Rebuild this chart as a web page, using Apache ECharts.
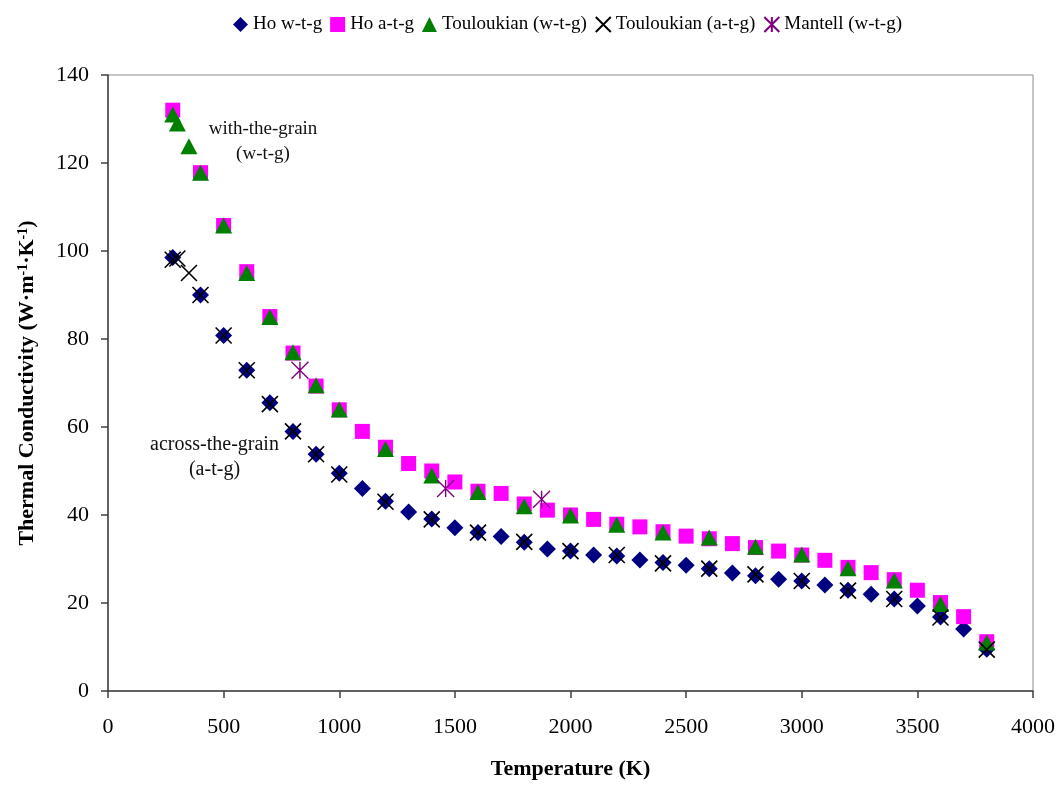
<!DOCTYPE html>
<html>
<head>
<meta charset="utf-8">
<title>Thermal Conductivity vs Temperature</title>
<script src="https://cdn.jsdelivr.net/npm/echarts@6/dist/echarts.min.js"></script>
<style>
  html, body { margin: 0; padding: 0; background: #fff; }
  #chart { width: 1059px; height: 785px; }
</style>
</head>
<body>
<div id="chart"></div>
<script>
// Temperatures (K) for the Ho data sets
const hoTemps = [280, 400, 500, 600, 700, 800, 900, 1000, 1100, 1200, 1300, 1400, 1500, 1600, 1700,
  1800, 1900, 2000, 2100, 2200, 2300, 2400, 2500, 2600, 2700, 2800, 2900, 3000, 3100, 3200,
  3300, 3400, 3500, 3600, 3700, 3800];
const hoWtg = [98.5, 90, 80.8, 72.9, 65.5, 59, 53.8, 49.5, 46, 43.1, 40.7, 39.1, 37.1, 36, 35.1,
  33.8, 32.3, 31.8, 30.9, 30.7, 29.8, 29.2, 28.6, 27.8, 26.8, 26.2, 25.4, 25, 24.1, 22.9,
  22, 20.9, 19.3, 16.8, 14.1, 9.5];
const hoAtg = [132, 117.8, 105.8, 95.3, 85.1, 76.8, 69.3, 63.9, 59, 55.4, 51.7, 50, 47.5, 45.4, 44.9,
  42.5, 41.1, 40, 39, 37.9, 37.3, 36.2, 35.2, 34.6, 33.5, 32.6, 31.8, 30.9, 29.7, 28.1,
  26.9, 25.3, 22.9, 20.1, 16.9, 11.2];

// Touloukian with-the-grain
const toulWtgTemps = [280, 300, 350, 400, 500, 600, 700, 800, 900, 1000, 1200, 1400, 1600, 1800,
  2000, 2200, 2400, 2600, 2800, 3000, 3200, 3400, 3600, 3800];
const toulWtg = [131, 129, 123.8, 117.8, 105.8, 95, 85, 77, 69.5, 64, 55, 49, 45.2, 42,
  39.9, 37.8, 36, 34.9, 32.8, 31, 27.9, 25.1, 19.8, 11];

// Touloukian across-the-grain
const toulAtgTemps = [280, 300, 350, 400, 500, 600, 700, 800, 900, 1000, 1200, 1400, 1600, 1800,
  2000, 2200, 2400, 2600, 2800, 3000, 3200, 3400, 3600, 3800];
const toulAtg = [98, 98.3, 95, 90, 80.8, 72.9, 65.2, 59, 53.8, 49.2, 43, 39, 36, 33.9,
  31.8, 30.9, 29, 27.8, 26.5, 25, 22.8, 20.9, 16.7, 9.4];

// Mantell with-the-grain
const mantellTemps = [830, 1460, 1875];
const mantellWtg = [72.9, 46, 43.6];

const seriesNames = ['Ho w-t-g', 'Ho a-t-g', 'Touloukian (w-t-g)', 'Touloukian (a-t-g)', 'Mantell (w-t-g)'];

const FONT = '"Liberation Serif", "Times New Roman", serif';
const pairs = (xs, ys) => xs.map((x, i) => [x, ys[i]]);

const crossPath = 'path://M0 0L10 10M10 0L0 10';
const starPath = 'path://M0 0L10 10M10 0L0 10M5 0L5 10';

const chart = echarts.init(document.getElementById('chart'), null, { renderer: 'canvas' });

chart.setOption({
  backgroundColor: '#ffffff',
  animation: false,
  textStyle: { fontFamily: FONT, color: '#000' },
  legend: {
    data: seriesNames,
    top: 10,
    left: 228,
    itemWidth: 15,
    itemHeight: 15,
    itemGap: 8,
    textStyle: { fontFamily: FONT, fontSize: 19, color: '#000' }
  },
  grid: {
    left: 108, right: 26, top: 75, bottom: 92,
    show: true,
    borderColor: '#8c8c8c',
    borderWidth: 1,
    backgroundColor: 'transparent'
  },
  xAxis: {
    type: 'value',
    min: 0, max: 4000, interval: 500,
    name: 'Temperature (K)',
    nameLocation: 'middle',
    nameGap: 67,
    nameTextStyle: { fontFamily: FONT, fontSize: 22, fontWeight: 'bold', color: '#000' },
    axisLine: { show: true, lineStyle: { color: '#404040', width: 1.5 } },
    axisTick: { show: true, inside: false, length: 7, lineStyle: { color: '#404040', width: 1.5 } },
    axisLabel: { fontFamily: FONT, fontSize: 22, color: '#000', margin: 25, formatter: v => String(v) },
    splitLine: { show: false }
  },
  yAxis: {
    type: 'value',
    min: 0, max: 140, interval: 20,
    name: '{b|Thermal Conductivity (W·m}{s|-1}{b|·K}{s|-1}{b|)}',
    nameLocation: 'middle',
    nameGap: 70,
    nameRotate: 90,
    nameTextStyle: {
      fontFamily: FONT, fontSize: 22, fontWeight: 'bold', color: '#000',
      rich: {
        b: { fontFamily: FONT, fontSize: 22, fontWeight: 'bold', color: '#000' },
        s: { fontFamily: FONT, fontSize: 14, fontWeight: 'bold', color: '#000', verticalAlign: 'top', lineHeight: 14 }
      }
    },
    axisLine: { show: true, lineStyle: { color: '#404040', width: 1.5 } },
    axisTick: { show: true, inside: false, length: 7, lineStyle: { color: '#404040', width: 1.5 } },
    axisLabel: { fontFamily: FONT, fontSize: 22, color: '#000', margin: 19, formatter: v => String(v) },
    splitLine: { show: false }
  },
  graphic: [
    {
      type: 'text',
      x: 263, y: 141.5,
      style: {
        text: 'with-the-grain\n(w-t-g)',
        font: '19px ' + FONT,
        fill: '#111',
        align: 'center',
        verticalAlign: 'middle',
        lineHeight: 25
      }
    },
    {
      type: 'text',
      x: 214.5, y: 457.5,
      style: {
        text: 'across-the-grain\n(a-t-g)',
        font: '20px ' + FONT,
        fill: '#111',
        align: 'center',
        verticalAlign: 'middle',
        lineHeight: 25
      }
    }
  ],
  series: [
    {
      name: seriesNames[0],
      type: 'scatter',
      symbol: 'diamond',
      symbolSize: 17,
      itemStyle: { color: '#000080', opacity: 1 },
      data: pairs(hoTemps, hoWtg)
    },
    {
      name: seriesNames[1],
      type: 'scatter',
      symbol: 'rect',
      symbolSize: 15,
      itemStyle: { color: '#ff00ff', opacity: 1 },
      data: pairs(hoTemps, hoAtg)
    },
    {
      name: seriesNames[2],
      type: 'scatter',
      symbol: 'triangle',
      symbolSize: [17, 16],
      itemStyle: { color: '#008000', opacity: 1 },
      data: pairs(toulWtgTemps, toulWtg)
    },
    {
      name: seriesNames[3],
      type: 'scatter',
      symbol: crossPath,
      symbolSize: 16,
      itemStyle: { color: 'rgba(0,0,0,0)', borderColor: '#000000', borderWidth: 1.6, opacity: 1 },
      data: pairs(toulAtgTemps, toulAtg)
    },
    {
      name: seriesNames[4],
      type: 'scatter',
      symbol: starPath,
      symbolSize: 17,
      itemStyle: { color: 'rgba(0,0,0,0)', borderColor: '#800080', borderWidth: 1.4, opacity: 1 },
      data: pairs(mantellTemps, mantellWtg)
    }
  ]
});
</script>
</body>
</html>
